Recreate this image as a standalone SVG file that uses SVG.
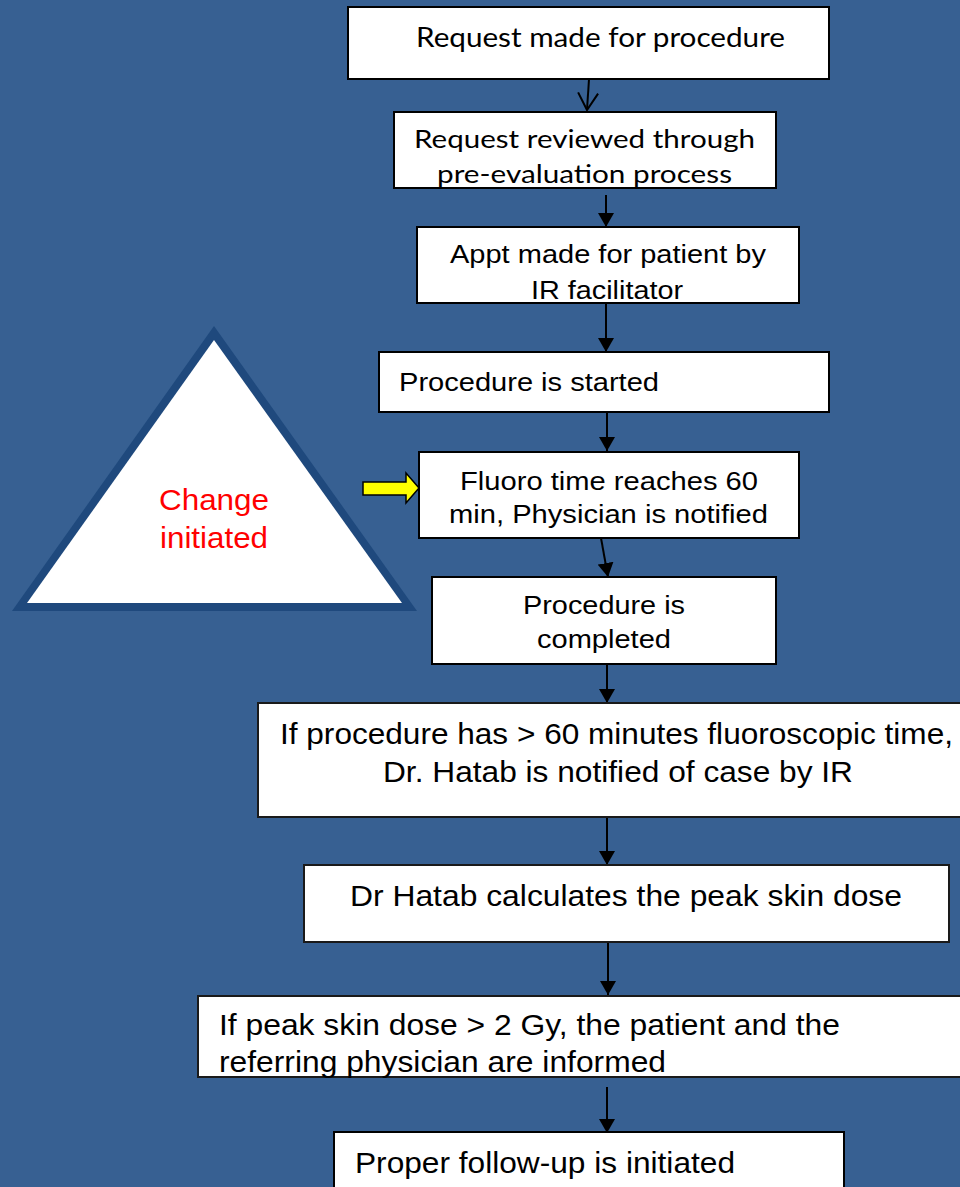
<svg xmlns="http://www.w3.org/2000/svg" width="960" height="1187" viewBox="0 0 960 1187">
<style>
.box{fill:#ffffff;stroke:#000000;stroke-width:2}
.bx2{fill:#ffffff;stroke:#1a1a1a;stroke-width:2}
.cal{font-family:Lato,"Open Sans","Liberation Sans",sans-serif;fill:#000000}
.ar{font-family:"Liberation Sans",Arial,sans-serif;fill:#000000}
.f25{font-size:25px}
.f29{font-size:29px}
.f30{font-size:30px}
.conn{stroke:#000000;stroke-width:2;fill:none}
</style>
<defs>
<marker id="head" viewBox="0 0 14 16" refX="14" refY="8" markerWidth="14" markerHeight="16" markerUnits="userSpaceOnUse" orient="auto">
<path d="M0,0 L14,8 L0,16 Z" fill="#000000"/>
</marker>
<marker id="open" viewBox="-1 -1 19 22" refX="17" refY="10" markerWidth="19" markerHeight="22" markerUnits="userSpaceOnUse" orient="auto">
<path d="M0,0 L17,10 L0,20" fill="none" stroke="#000000" stroke-width="2"/>
</marker>
</defs>
<rect x="0" y="0" width="960" height="1187" fill="#376092"/>

<g id="triangle">
<polygon points="214,326 12,611 417,611" fill="#1F497D"/>
<polygon points="214,340 27,603 402,603" fill="#ffffff"/>
<text x="159" y="510" class="ar" style="font-size:29px;fill:#FF0000" textLength="110" lengthAdjust="spacingAndGlyphs">Change</text>
<text x="160" y="548" class="ar" style="font-size:29px;fill:#FF0000" textLength="108" lengthAdjust="spacingAndGlyphs">initiated</text>
</g>

<g id="yellow-arrow">
<polygon points="363,482 406,482 406,473 419,488 406,503 406,495 363,495" fill="#FFFF00" stroke="#000000" stroke-width="1.5" stroke-linejoin="miter"/>
</g>

<g id="connectors">
<line class="conn" x1="589" y1="79" x2="587" y2="110" marker-end="url(#open)"/>
<line class="conn" x1="606" y1="195" x2="606" y2="227" marker-end="url(#head)"/>
<line class="conn" x1="606" y1="303" x2="606" y2="352" marker-end="url(#head)"/>
<line class="conn" x1="607" y1="412" x2="607" y2="451" marker-end="url(#head)"/>
<line class="conn" x1="601" y1="538" x2="608" y2="577" marker-end="url(#head)"/>
<line class="conn" x1="607" y1="664" x2="607" y2="703" marker-end="url(#head)"/>
<line class="conn" x1="607" y1="817" x2="607" y2="865" marker-end="url(#head)"/>
<line class="conn" x1="608" y1="942" x2="608" y2="995" marker-end="url(#head)"/>
<line class="conn" x1="607" y1="1087" x2="607" y2="1133" marker-end="url(#head)"/>
</g>

<g id="n1">
<rect class="box" x="348" y="7" width="481" height="72"/>
<text x="416" y="47" class="cal" style="font-size:26px" textLength="369" lengthAdjust="spacingAndGlyphs">Request made for procedure</text>
</g>
<g id="n2">
<rect class="box" x="394" y="112" width="382" height="76"/>
<text x="414" y="148" class="cal" style="font-size:25px" textLength="341" lengthAdjust="spacingAndGlyphs">Request reviewed through</text>
<text x="437" y="183" class="cal" style="font-size:25px" textLength="295" lengthAdjust="spacingAndGlyphs">pre-evaluation process</text>
</g>
<g id="n3">
<rect class="box" x="417" y="227" width="382" height="76"/>
<text x="450" y="263" class="ar f25" textLength="316" lengthAdjust="spacingAndGlyphs">Appt made for patient by</text>
<text x="531" y="299" class="ar f25" textLength="152" lengthAdjust="spacingAndGlyphs">IR facilitator</text>
</g>
<g id="n4">
<rect class="box" x="379" y="352" width="450" height="60"/>
<text x="399" y="391" class="ar f25" textLength="260" lengthAdjust="spacingAndGlyphs">Procedure is started</text>
</g>
<g id="n5">
<rect class="box" x="419" y="452" width="380" height="86"/>
<text x="460" y="490" class="ar f25" textLength="298" lengthAdjust="spacingAndGlyphs">Fluoro time reaches 60</text>
<text x="449" y="523" class="ar f25" textLength="319" lengthAdjust="spacingAndGlyphs">min, Physician is notified</text>
</g>
<g id="n6">
<rect class="box" x="432" y="577" width="344" height="87"/>
<text x="523" y="614" class="ar f25" textLength="162" lengthAdjust="spacingAndGlyphs">Procedure is</text>
<text x="537" y="648" class="ar f25" textLength="134" lengthAdjust="spacingAndGlyphs">completed</text>
</g>
<g id="n7">
<rect class="bx2" x="258" y="703" width="720" height="114"/>
<text x="280" y="744" class="ar f30" textLength="673" lengthAdjust="spacingAndGlyphs">If procedure has &gt; 60 minutes fluoroscopic time,</text>
<text x="383" y="782" class="ar f30" textLength="470" lengthAdjust="spacingAndGlyphs">Dr. Hatab is notified of case by IR</text>
</g>
<g id="n8">
<rect class="bx2" x="304" y="865" width="645" height="77"/>
<text x="350" y="906" class="ar f30" textLength="552" lengthAdjust="spacingAndGlyphs">Dr Hatab calculates the peak skin dose</text>
</g>
<g id="n9">
<rect class="bx2" x="198" y="996" width="780" height="81"/>
<text x="219" y="1035" class="ar f29" textLength="621" lengthAdjust="spacingAndGlyphs">If peak skin dose &gt; 2 Gy, the patient and the</text>
<text x="219" y="1072" class="ar f29" textLength="447" lengthAdjust="spacingAndGlyphs">referring physician are informed</text>
</g>
<g id="n10">
<rect class="box" x="334" y="1132" width="510" height="80"/>
<text x="355" y="1173" class="ar f29" textLength="380" lengthAdjust="spacingAndGlyphs">Proper follow-up is initiated</text>
</g>
</svg>
